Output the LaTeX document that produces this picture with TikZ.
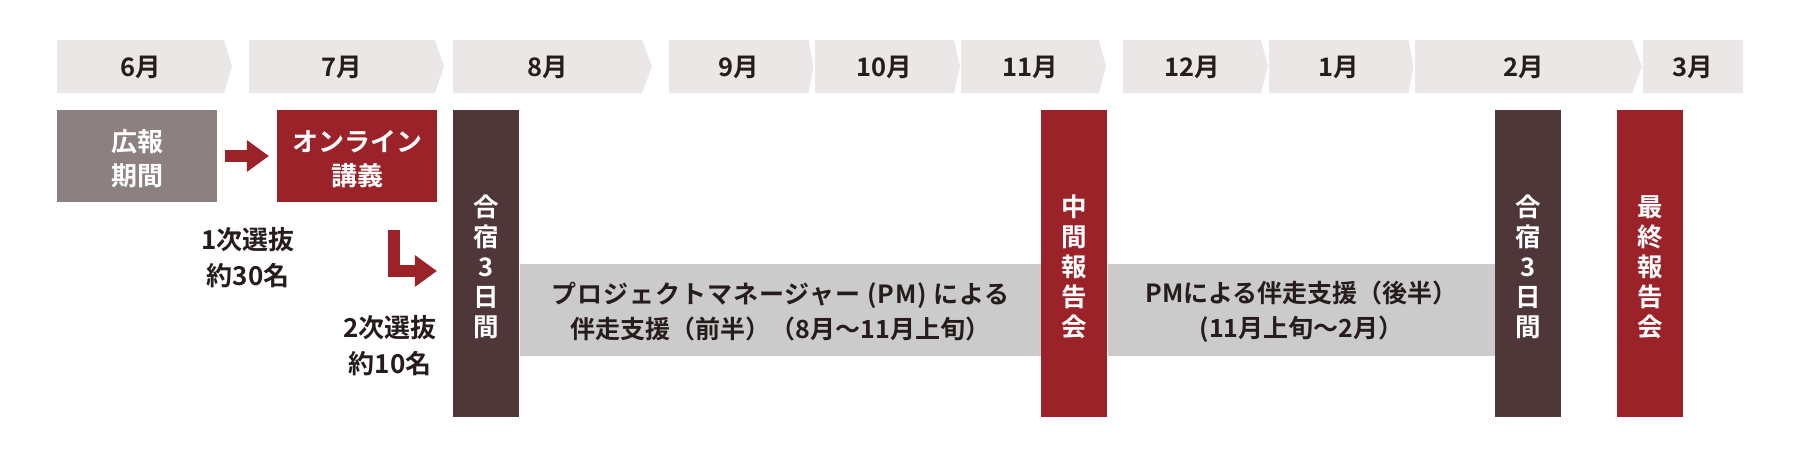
\documentclass[tikz,border=0pt]{standalone}
\usepackage{fontspec}
\setmainfont{Noto Sans CJK JP}[BoldFont={Noto Sans CJK JP Bold}]
\newfontfamily\spacedfont{Noto Sans CJK JP}[LetterSpace=4,BoldFont={Noto Sans CJK JP Bold}]
\usetikzlibrary{arrows.meta,calc}
\definecolor{monthbg}{RGB}{235,231,231}
\definecolor{kouhoucol}{RGB}{140,128,128}
\definecolor{redcol}{RGB}{155,34,41}
\definecolor{darkcol}{RGB}{78,54,57}
\definecolor{graybar}{RGB}{203,203,203}
\definecolor{textdark}{RGB}{38,28,28}
\tikzset{
  monthlabel/.style={font=\fontsize{25.5}{25.5}\selectfont\bfseries, text=textdark, inner sep=0pt},
  blockbox/.style={rectangle, inner sep=0pt, draw=none},
  boxtext/.style={font=\fontsize{26}{34}\selectfont\bfseries, text=white, align=center, inner sep=0pt},
  sidetext/.style={font=\fontsize{26}{36}\selectfont\bfseries, text=textdark, align=center, inner sep=0pt},
  verttext/.style={font=\fontsize{25.5}{30}\selectfont\bfseries, text=white, align=center, inner sep=0pt},
  bartext/.style={font=\fontsize{25}{35}\selectfont\bfseries, text=textdark, align=center, inner sep=0pt},
  blockarrow/.style={draw=redcol, line width=12pt, line join=miter,
    -{Triangle[width=32pt,length=22pt,line width=0pt]}},
}
\begin{document}
\begin{tikzpicture}[x=1pt,y=-1pt]
\useasboundingbox[fill=white] (0,0) rectangle (1800,458);
% month chevrons
\foreach \a/\b/\c/\t [count=\i] in {
  57/224/232/6月, 249/435/444/7月, 453/642/652/8月, 669/808.5/813.5/9月,
  815/954/960/10月, 961/1099/1106/11月, 1123/1261/1268/12月,
  1269/1408.5/1413.5/1月, 1415/1632/1642/2月, 1643/1743/1743/3月}{
  \fill[monthbg] (\a,40) -- (\b,40) -- (\c,66.5) -- (\b,93) -- (\a,93) -- cycle;
  \node[monthlabel] (m\i) at ({(\a+\b)/2},67) {\t};
}
% top boxes
\node[blockbox, fill=kouhoucol, minimum width=160pt, minimum height=92pt] (kouhou) at (137,156) {};
\node[boxtext] (kouhoutxt) at ($(kouhou.center)+(0,3)$) {広報\\期間};
\node[blockbox, fill=redcol, minimum width=160pt, minimum height=92pt] (online) at (357,156) {};
\node[boxtext] (onlinetxt) at ($(online.center)+(0,3)$) {オンライン\\講義};
\draw[blockarrow] ($(kouhou.east)+(8,0)$) -- ($(online.west)+(-8,0)$);
% tall bars
\node[blockbox, fill=darkcol, minimum width=66pt, minimum height=307pt] (gs1) at (486,263.5) {};
\node[blockbox, fill=redcol, minimum width=66pt, minimum height=307pt] (chukan) at (1074,263.5) {};
\node[blockbox, fill=darkcol, minimum width=66pt, minimum height=307pt] (gs2) at (1528,263.5) {};
\node[blockbox, fill=redcol, minimum width=66pt, minimum height=307pt] (saishu) at (1650,263.5) {};
\node[verttext] (gs1txt) at ($(gs1.center)+(0,3.5)$) {合\\宿\\3\\日\\間};
\node[verttext] (chukantxt) at ($(chukan.center)+(0,3.5)$) {中\\間\\報\\告\\会};
\node[verttext] (gs2txt) at ($(gs2.center)+(0,3.5)$) {合\\宿\\3\\日\\間};
\node[verttext] (saishutxt) at ($(saishu.center)+(0,3.5)$) {最\\終\\報\\告\\会};
% gray bars
\node[blockbox, fill=graybar, minimum width=521pt, minimum height=92pt] (pm1) at (780.5,310) {};
\node[bartext] (pm1txt) at ($(pm1.center)+(0,2)$) {{\spacedfont\bfseries プロジェクトマネージャー (PM) による}\\伴走支援（前半）（8月〜11月上旬）};
\node[blockbox, fill=graybar, minimum width=387pt, minimum height=92pt] (pm2) at (1301.5,310) {};
\node[bartext] (pm2txt) at ($(pm2.center)+(0,2)$) {PMによる伴走支援（後半）\\(11月上旬〜2月）};
% selection labels
\node[sidetext] (sel1) at (248,257.5) {1次選抜\\約30名};
\node[sidetext] (sel2) at (390,345.5) {2次選抜\\約10名};
\coordinate (lstart) at (393.5,230);
\draw[blockarrow] (lstart) |- ($(gs1.west)+(-16,7.5)$);
\end{tikzpicture}
\end{document}
